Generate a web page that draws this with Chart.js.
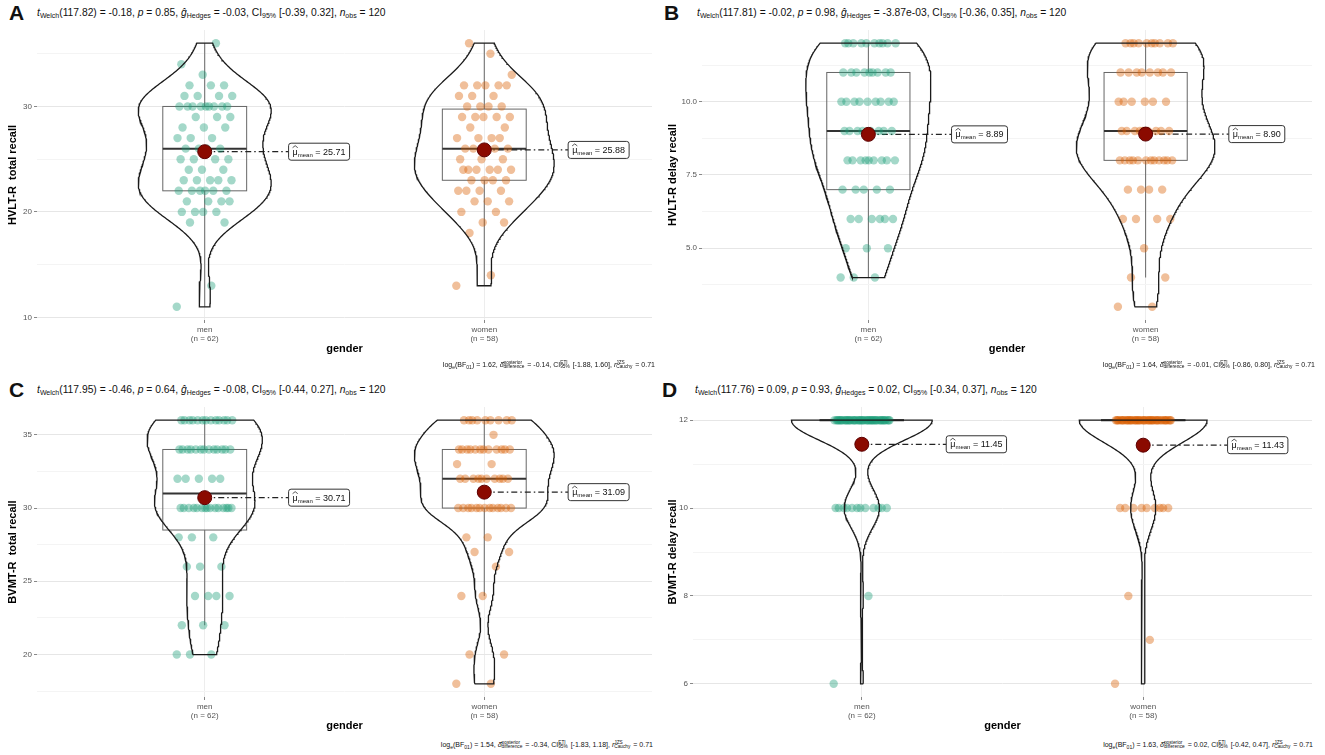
<!DOCTYPE html>
<html lang="en">
<head>
<meta charset="UTF-8">
<title>Gender differences in recall scores</title>
<script src="https://cdn.jsdelivr.net/npm/chart.js"></script>
<style>
  body { margin: 0; width: 1325px; height: 755px; position: relative; overflow: hidden; background: #fff;
         font-family: "Liberation Sans", Arial, sans-serif; color: #111; }
  .letter { position: absolute; font-weight: bold; font-size: 21px; line-height: 24px; }
  .sub { position: absolute; font-size: 10.3px; line-height: 12px; white-space: nowrap; }
  .sub sub { font-size: 0.68em; vertical-align: -0.3em; }
  .cap { position: absolute; font-size: 7px; line-height: 12px; white-space: nowrap; }
  .cap sub { font-size: 0.72em; vertical-align: -0.3em; }
  .ss { display: inline-flex; flex-direction: column; vertical-align: middle; font-size: 0.68em; line-height: 0.95; margin-right: 1px; }
  .box { position: absolute; }
</style>
</head>
<body>
  <div class="letter" style="left:9px; top:1px;">A</div>
  <div class="sub" style="left:37px; top:7px;"><i>t</i><sub>Welch</sub>(117.82) = -0.18, <i>p</i> = 0.85, <i>ĝ</i><sub>Hedges</sub> = -0.03, CI<sub>95%</sub> [-0.39, 0.32], <i>n</i><sub>obs</sub> = 120</div>
  <div class="letter" style="left:664px; top:1px;">B</div>
  <div class="sub" style="left:697px; top:7px;"><i>t</i><sub>Welch</sub>(117.81) = -0.02, <i>p</i> = 0.98, <i>ĝ</i><sub>Hedges</sub> = -3.87e-03, CI<sub>95%</sub> [-0.36, 0.35], <i>n</i><sub>obs</sub> = 120</div>
  <div class="letter" style="left:9px; top:378px;">C</div>
  <div class="sub" style="left:37px; top:384px;"><i>t</i><sub>Welch</sub>(117.95) = -0.46, <i>p</i> = 0.64, <i>ĝ</i><sub>Hedges</sub> = -0.08, CI<sub>95%</sub> [-0.44, 0.27], <i>n</i><sub>obs</sub> = 120</div>
  <div class="letter" style="left:662px; top:378px;">D</div>
  <div class="sub" style="left:695px; top:384px;"><i>t</i><sub>Welch</sub>(117.76) = 0.09, <i>p</i> = 0.93, <i>ĝ</i><sub>Hedges</sub> = 0.02, CI<sub>95%</sub> [-0.34, 0.37], <i>n</i><sub>obs</sub> = 120</div>

  <div class="box" style="left:0px; top:22px; width:660px; height:340px;"><canvas id="chartA"></canvas></div>
  <div class="box" style="left:660px; top:22px; width:660px; height:340px;"><canvas id="chartB"></canvas></div>
  <div class="box" style="left:0px; top:399px; width:660px; height:340px;"><canvas id="chartC"></canvas></div>
  <div class="box" style="left:660px; top:399px; width:660px; height:340px;"><canvas id="chartD"></canvas></div>

  <div class="cap" style="right:670px; top:359px;">log<sub>e</sub>(BF<sub>01</sub>) = 1.62, <i>δ̂</i><span class="ss"><span>posterior</span><span>difference</span></span> = -0.14, CI<span class="ss"><span>ETI</span><span>95%</span></span> [-1.88, 1.60], <i>r</i><span class="ss"><span>JZS</span><span>Cauchy</span></span> = 0.71</div>
  <div class="cap" style="right:10px; top:359px;">log<sub>e</sub>(BF<sub>01</sub>) = 1.64, <i>δ̂</i><span class="ss"><span>posterior</span><span>difference</span></span> = -0.01, CI<span class="ss"><span>ETI</span><span>95%</span></span> [-0.86, 0.80], <i>r</i><span class="ss"><span>JZS</span><span>Cauchy</span></span> = 0.71</div>
  <div class="cap" style="right:672px; top:739px;">log<sub>e</sub>(BF<sub>01</sub>) = 1.54, <i>δ̂</i><span class="ss"><span>posterior</span><span>difference</span></span> = -0.34, CI<span class="ss"><span>ETI</span><span>95%</span></span> [-1.83, 1.18], <i>r</i><span class="ss"><span>JZS</span><span>Cauchy</span></span> = 0.71</div>
  <div class="cap" style="right:12px; top:739px;">log<sub>e</sub>(BF<sub>01</sub>) = 1.63, <i>δ̂</i><span class="ss"><span>posterior</span><span>difference</span></span> = 0.02, CI<span class="ss"><span>ETI</span><span>95%</span></span> [-0.42, 0.47], <i>r</i><span class="ss"><span>JZS</span><span>Cauchy</span></span> = 0.71</div>

<script>
// groups
var categories = ['men', 'women'];

// A: HVLT-R total recall (counts per score)
var aScores = [11, 13, 14, 18, 19, 20, 21, 22, 23, 24, 25, 26, 27, 28, 29, 30, 31, 32, 33, 34, 35, 36];
var aMen    = [ 1,  1,  0,  0,  2,  4,  4,  6,  5,  3,  4,  4,  3,  3,  3,  9,  4,  3,  1,  1,  0,  1];
var aWomen  = [ 0,  1,  1,  1,  2,  2,  3,  4,  4,  6,  3,  5,  4,  2,  5,  4,  3,  5,  1,  0,  1,  1];
var aTicks = [10, 20, 30];
var aTickLabels = ['10', '20', '30'];
var aMinor = [15, 25, 35];

// B: HVLT-R delay recall
var bScores = [3, 4, 5, 6, 7, 8, 9, 10, 11, 12];
var bMen    = [0, 3, 3, 6, 5, 9, 8,  9,  9, 10];
var bWomen  = [2, 2, 1, 4, 4, 12, 9, 6,  8, 10];
var bTicks = [5, 7.5, 10];
var bTickLabels = ['5.0', '7.5', '10.0'];
var bMinor = [3.75, 6.25, 8.75, 11.25];

// C: BVMT-R total recall
var cScores = [18, 20, 22, 24, 26, 27, 28, 30, 32, 33, 34, 35, 36];
var cMen    = [ 0,  3,  3,  4,  3,  0,  3, 15,  5,  0, 13,  0, 13];
var cWomen  = [ 2,  2,  0,  2,  1,  2,  2, 13, 10,  2, 12,  1,  9];
var cTicks = [20, 25, 30, 35];
var cTickLabels = ['20', '25', '30', '35'];
var cMinor = [17.5, 22.5, 27.5, 32.5];

// D: BVMT-R delay recall
var dScores = [6, 7, 8, 10, 12];
var dMen    = [1, 0, 1, 12, 48];
var dWomen  = [1, 1, 1,  9, 46];
var dTicks = [6, 8, 10, 12];
var dTickLabels = ['6', '8', '10', '12'];
var dMinor = [7, 9, 11];

var panels = [
    { id: 'chartA', scores: aScores, counts: [aMen, aWomen], ticks: aTicks, labels: aTickLabels, minor: aMinor, title: 'HVLT-R  total recall', axisW: 37 },
    { id: 'chartB', scores: bScores, counts: [bMen, bWomen], ticks: bTicks, labels: bTickLabels, minor: bMinor, title: 'HVLT-R delay recall', axisW: 42 },
    { id: 'chartC', scores: cScores, counts: [cMen, cWomen], ticks: cTicks, labels: cTickLabels, minor: cMinor, title: 'BVMT-R  total recall', axisW: 37 },
    { id: 'chartD', scores: dScores, counts: [dMen, dWomen], ticks: dTicks, labels: dTickLabels, minor: dMinor, title: 'BVMT-R delay recall', axisW: 33 }
];

var pointColors = ['rgba(27, 158, 119, 0.4)', 'rgba(217, 95, 2, 0.4)'];

Chart.defaults.font.family = '"Liberation Sans", Arial, sans-serif';

function expand(scores, counts) {
    var out = [];
    scores.forEach(function (s, i) {
        for (var k = 0; k < counts[i]; k++) out.push(s);
    });
    return out;
}

// R type 7 quantile
function quantile(sorted, p) {
    var h = (sorted.length - 1) * p;
    var lo = Math.floor(h);
    var next = lo + 1 < sorted.length ? sorted[lo + 1] : sorted[lo];
    return sorted[lo] + (h - lo) * (next - sorted[lo]);
}

function sd(a) {
    var m = a.reduce(function (s, v) { return s + v; }, 0) / a.length;
    var ss = a.reduce(function (s, v) { return s + (v - m) * (v - m); }, 0);
    return Math.sqrt(ss / (a.length - 1));
}

// bandwidth like R's bw.nrd0
function bwNrd0(sorted) {
    var hi = sd(sorted);
    var lo = Math.min(hi, (quantile(sorted, 0.75) - quantile(sorted, 0.25)) / 1.34);
    if (!lo) lo = hi || Math.abs(sorted[0]) || 1;
    return 0.9 * lo * Math.pow(sorted.length, -0.2);
}

function density(sorted, bw, y) {
    var s = 0;
    sorted.forEach(function (v) {
        var z = (y - v) / bw;
        s += Math.exp(-0.5 * z * z);
    });
    return s / (sorted.length * bw * Math.sqrt(2 * Math.PI));
}

function jitter(j) {
    return (((j * 0.6180339887) % 1) - 0.5) * 0.2;
}

function groupStats(values) {
    var s = values.slice().sort(function (a, b) { return a - b; });
    var q1 = quantile(s, 0.25), med = quantile(s, 0.5), q3 = quantile(s, 0.75);
    var iqr = q3 - q1;
    var inside = s.filter(function (v) { return v >= q1 - 1.5 * iqr && v <= q3 + 1.5 * iqr; });
    var mean = s.reduce(function (a, b) { return a + b; }, 0) / s.length;
    var bw = bwNrd0(s);
    var ys = [], dens = [];
    for (var i = 0; i <= 240; i++) {
        var y = s[0] + (s[s.length - 1] - s[0]) * i / 240;
        ys.push(y);
        dens.push(density(s, bw, y));
    }
    return { values: values, n: s.length, q1: q1, med: med, q3: q3, lw: inside[0], uw: inside[inside.length - 1], mean: mean, ys: ys, dens: dens };
}

function drawLine(ctx, x1, y1, x2, y2) {
    ctx.beginPath();
    ctx.moveTo(x1, y1);
    ctx.lineTo(x2, y2);
    ctx.stroke();
}

function makeBoxPlugin(stats) {
    return {
        id: 'boxAndMean',
        beforeDatasetsDraw: function (chart) {
            var ctx = chart.ctx, xs = chart.scales.x, ys = chart.scales.y;
            stats.forEach(function (st, gi) {
                var c = gi + 1;
                var xl = xs.getPixelForValue(c - 0.15), xr = xs.getPixelForValue(c + 0.15), xc = xs.getPixelForValue(c);
                ctx.save();
                ctx.strokeStyle = '#666';
                ctx.lineWidth = 1;
                drawLine(ctx, xc, ys.getPixelForValue(st.q3), xc, ys.getPixelForValue(st.uw));
                drawLine(ctx, xc, ys.getPixelForValue(st.q1), xc, ys.getPixelForValue(st.lw));
                ctx.strokeRect(xl, ys.getPixelForValue(st.q3), xr - xl, ys.getPixelForValue(st.q1) - ys.getPixelForValue(st.q3));
                ctx.strokeStyle = '#333';
                ctx.lineWidth = 2;
                drawLine(ctx, xl, ys.getPixelForValue(st.med), xr, ys.getPixelForValue(st.med));

                // dash-dot leader to the mean label
                var my = ys.getPixelForValue(st.mean);
                var lx = xs.getPixelForValue(c + 0.3);
                ctx.strokeStyle = '#222';
                ctx.lineWidth = 1.2;
                ctx.setLineDash([6, 3, 1.5, 3]);
                drawLine(ctx, xc, my, lx, my);
                ctx.setLineDash([]);

                // label
                var num = ' = ' + st.mean.toFixed(2);
                var big = '9px "Liberation Sans", Arial, sans-serif';
                var small = '6px "Liberation Sans", Arial, sans-serif';
                ctx.font = big;
                var w1 = ctx.measureText('\u03bc').width;
                var w3 = ctx.measureText(num).width;
                ctx.font = small;
                var w2 = ctx.measureText('mean').width;
                var bw = w1 + w2 + w3 + 8, bh = 17;
                ctx.beginPath();
                ctx.roundRect(lx, my - bh / 2, bw, bh, 2.5);
                ctx.fillStyle = '#fff';
                ctx.fill();
                ctx.strokeStyle = '#333';
                ctx.lineWidth = 1;
                ctx.stroke();
                ctx.fillStyle = '#111';
                ctx.textBaseline = 'alphabetic';
                ctx.font = big;
                ctx.fillText('\u03bc', lx + 4, my + 3);
                // hat over mu
                ctx.beginPath();
                ctx.moveTo(lx + 4, my - 4);
                ctx.lineTo(lx + 4 + w1 / 2, my - 6);
                ctx.lineTo(lx + 4 + w1, my - 4);
                ctx.lineWidth = 0.7;
                ctx.strokeStyle = '#111';
                ctx.stroke();
                ctx.font = small;
                ctx.fillText('mean', lx + 4 + w1, my + 5);
                ctx.font = big;
                ctx.fillText(num, lx + 4 + w1 + w2, my + 3);
                ctx.restore();
            });
        }
    };
}

panels.forEach(function (p) {
    var stats = p.counts.map(function (c) { return groupStats(expand(p.scores, c)); });
    var all = stats[0].values.concat(stats[1].values);
    var lo = Math.min.apply(null, all), hi = Math.max.apply(null, all);
    var pad = (hi - lo) * 0.05;
    var dmax = Math.max.apply(null, stats[0].dens.concat(stats[1].dens));

    var datasets = [];
    datasets.push({
        data: stats.map(function (st, gi) { return { x: gi + 1, y: st.mean }; }),
        pointRadius: 7,
        pointBackgroundColor: '#8b0a00',
        pointBorderColor: '#5c0000',
        pointBorderWidth: 1,
        showLine: false
    });
    stats.forEach(function (st, gi) {
        var c = gi + 1, poly = [];
        st.ys.forEach(function (y, i) { poly.push({ x: c + 0.25 * st.dens[i] / dmax, y: y }); });
        for (var i = st.ys.length - 1; i >= 0; i--) poly.push({ x: c - 0.25 * st.dens[i] / dmax, y: st.ys[i] });
        poly.push(poly[0]);
        datasets.push({
            data: poly,
            showLine: true,
            borderColor: '#1a1a1a',
            borderWidth: 1.3,
            pointRadius: 0,
            tension: 0,
            fill: false
        });
    });
    stats.forEach(function (st, gi) {
        datasets.push({
            data: st.values.map(function (v, j) { return { x: gi + 1 + jitter(j), y: v }; }),
            pointRadius: 4.2,
            pointBackgroundColor: pointColors[gi],
            pointBorderWidth: 0,
            showLine: false
        });
    });

    var isMajor = function (v) { return p.ticks.indexOf(v) >= 0; };

    new Chart(document.getElementById(p.id), {
        type: 'scatter',
        data: { datasets: datasets },
        options: {
            responsive: true,
            maintainAspectRatio: false,
            animation: false,
            layout: { padding: { top: 6, right: 3, left: 0, bottom: 0 } },
            plugins: { legend: { display: false }, tooltip: { enabled: false } },
            scales: {
                x: {
                    type: 'linear',
                    min: 0.4,
                    max: 2.6,
                    afterBuildTicks: function (s) { s.ticks = [{ value: 1 }, { value: 2 }]; },
                    afterFit: function (s) { s.height = 42; },
                    border: { display: false },
                    grid: { color: '#ededed', tickColor: '#888', tickLength: 3 },
                    ticks: {
                        autoSkip: false,
                        maxRotation: 0,
                        padding: 2,
                        color: '#555',
                        font: { size: 8, lineHeight: 1.15 },
                        callback: function (v) {
                            var st = stats[v - 1];
                            return [categories[v - 1], '(n = ' + st.n + ')'];
                        }
                    },
                    title: { display: true, text: 'gender', color: '#000', font: { size: 11, weight: 'bold' }, padding: { top: 0, bottom: 6 } }
                },
                y: {
                    min: lo - pad,
                    max: hi + pad,
                    afterBuildTicks: function (s) {
                        s.ticks = p.ticks.concat(p.minor).sort(function (a, b) { return a - b; }).map(function (v) { return { value: v }; });
                    },
                    afterFit: function (s) { s.width = p.axisW; },
                    border: { display: false },
                    grid: {
                        color: function (ctx) { return isMajor(ctx.tick.value) ? '#e6e6e6' : '#f4f4f4'; },
                        tickColor: function (ctx) { return isMajor(ctx.tick.value) ? '#888' : 'rgba(0,0,0,0)'; },
                        tickLength: 3
                    },
                    ticks: {
                        autoSkip: false,
                        padding: 2,
                        color: '#555',
                        font: { size: 8 },
                        callback: function (v) {
                            var i = p.ticks.indexOf(v);
                            return i >= 0 ? p.labels[i] : '';
                        }
                    },
                    title: { display: true, text: p.title, color: '#000', font: { size: 11, weight: 'bold' }, padding: { top: 6, bottom: 0 } }
                }
            }
        },
        plugins: [makeBoxPlugin(stats)]
    });
});
</script>
</body>
</html>
